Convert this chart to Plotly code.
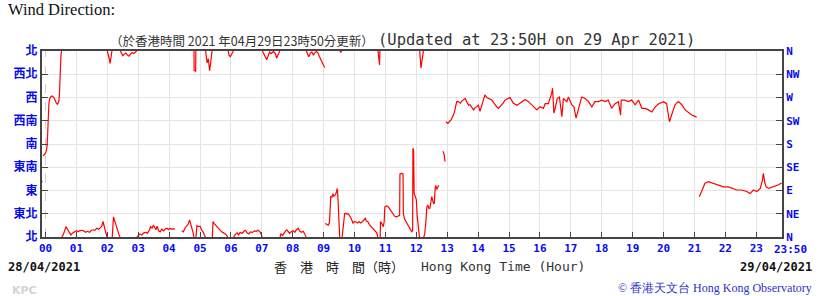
import plotly.graph_objects as go

# ---------------- data (hour of day, wind direction in degrees) ----------------
h1 = [-0.11, -0.09, -0.085, -0.08, -0.02, 0.02, 0.05, 0.07, 0.09, 0.11, 0.14, 0.18, 0.22, 0.27, 0.31, 0.35, 0.39, 0.43, 0.45, 0.47, 0.50, 0.52,
      0.53, 0.57, 0.62, 0.66, 0.70, 0.76, 0.82, 0.88, 0.94, 1.00, 1.05, 1.10, 1.17, 1.23, 1.30, 1.36, 1.42, 1.49, 1.55, 1.60, 1.66, 1.72, 1.78, 1.82, 1.86, 1.90, 1.94, 1.97, 1.99,
      2.00, 2.03, 2.06, 2.09, 2.12, 2.15,
      2.16, 2.18, 2.20, 2.23, 2.27, 2.32, 2.37, 2.41,
      2.42, 2.46, 2.50, 2.55, 2.60, 2.65, 2.70, 2.75, 2.80, 2.86, 2.92, 2.95,
      2.96, 3.00, 3.06, 3.12, 3.18, 3.25, 3.30, 3.35, 3.40, 3.45, 3.49, 3.53, 3.57, 3.61, 3.66, 3.71, 3.76, 3.82, 3.88, 3.93, 3.98, 4.03, 4.09, 4.13, 4.19]
d1 = [107, 107, None, 157, 160, 166, 175, 200, 235, 258, 268, 272, 273, 270, 265, 259, 257, 262, 275, 330, 352, 360,
      0, 4, 12, 20, 16, 9, 4, 8, 10, 12, 10, 12, 13, 12, 9, 11, 9, 13, 14, 13, 17, 15, 18, 21, 30, 22, 15, 5, 0,
      360, 354, 345, 336, 350, 360,
      0, 25, 39, 33, 24, 14, 6, 0,
      360, 355, 351, 354, 356, 352, 350, 354, 357, 355, 359, 360,
      0, 3, 6, 4, 8, 9, 7, 12, 20, 17, 23, 19, 14, 21, 12, 10, 15, 12, 16, 17, 14, 17, 15, 16, 15]

h2 = [4.30,
      4.41, 4.46, 4.52, 4.57, 4.62, 4.66, 4.70, 4.74, 4.77, 4.80,
      4.805, 4.81, 4.86, 4.865,
      4.87, 4.90, 4.95, 5.00, 5.05, 5.10, 5.14, 5.17,
      5.18, 5.20, 5.23, 5.27, 5.31, 5.33, 5.37, 5.39,
      5.40, 5.42, 5.46, 5.50, 5.55, 5.60, 5.65, 5.70, 5.76, 5.82, 5.87, 5.90,
      5.91, 5.94, 5.98, 6.02, 6.06, 6.08,
      6.09, 6.14, 6.20, 6.25, 6.30, 6.36, 6.42, 6.47, 6.52, 6.58, 6.63, 6.70, 6.76, 6.82, 6.88, 6.94, 6.98, 7.01,
      7.02, 7.07, 7.12, 7.16, 7.20, 7.25, 7.30, 7.38, 7.44, 7.48, 7.52, 7.56, 7.58,
      7.59, 7.62, 7.67, 7.72, 7.77, 7.81, 7.86, 7.90, 7.95, 8.02, 8.07, 8.12, 8.18, 8.22, 8.28, 8.34, 8.39, 8.43,
      8.44, 8.48, 8.52, 8.57, 8.62, 8.67, 8.72, 8.77, 8.82, 8.86, 8.90, 8.95, 9.00, 9.04]
d2 = [None,
      12, 10, 18, 22, 25, 33, 26, 18, 10, 0,
      360, 322, 321, 360,
      0, 22, 20, 21, 14, 10, 4, 0,
      360, 350, 337, 345, 322, 330, 358, 360,
      0, 30, 26, 23, 20, 17, 12, 10, 8, 6, 2, 0,
      360, 352, 349, 354, 358, 360,
      0, 5, 8, 4, 9, 7, 11, 13, 8, 6, 10, 9, 12, 11, 13, 10, 5, 0,
      360, 354, 347, 343, 350, 358, 355, 359, 355, 346, 352, 358, 360,
      0, 6, 3, 8, 12, 14, 9, 7, 10, 12, 9, 14, 17, 12, 9, 11, 6, 0,
      360, 353, 349, 356, 358, 352, 357, 359, 356, 350, 344, 337, 332, 328]

h3 = [9.05, 9.10, 9.15, 9.19, 9.21, 9.23, 9.27, 9.30, 9.33, 9.37, 9.41, 9.44, 9.46, 9.48, 9.50, 9.52,
      9.53, 9.56, 9.58,
      9.60, 9.62, 9.65, 9.68, 9.72, 9.76, 9.80, 9.85, 9.90, 9.95, 10.00, 10.05, 10.10, 10.15, 10.20, 10.26, 10.30, 10.35, 10.38, 10.43, 10.48, 10.54, 10.60, 10.66, 10.72, 10.75,
      10.76, 10.79, 10.81, 10.82,
      10.83, 10.84, 10.88, 10.93, 10.96, 10.98, 11.03, 11.08, 11.13, 11.18, 11.24, 11.30, 11.36, 11.42, 11.46, 11.47, 11.52, 11.57, 11.58, 11.62, 11.68, 11.74, 11.80, 11.85, 11.88, 11.89, 11.91, 11.93, 11.96, 12.00, 12.03, 12.07, 12.10,
      12.11, 12.13, 12.15, 12.18, 12.21, 12.23,
      12.24, 12.27, 12.31, 12.34, 12.37, 12.41, 12.44, 12.47, 12.50, 12.55, 12.58, 12.61, 12.63, 12.66, 12.70, 12.73,
      12.80, 12.86, 12.90, 12.93, 12.95]
d3 = [26, 24, 23, 28, 70, 78, 77, 84, 79, 81, 86, 94, 80, 55, 25, 0,
      360, 357, 360,
      0, 10, 25, 45, 46, 44, 45, 40, 35, 27, 30, 29, 27, 30, 27, 30, 32, 36, 31, 30, 24, 20, 15, 12, 8, 0,
      360, 346, 333, 360,
      0, 30, 26, 20, 30, 58, 60, 59, 55, 50, 44, 40, 39, 41, 42, 122, 123, 122, 45, 35, 28, 20, 14, 10, 12, 172, 168, 85, 80, 72, 40, 8, 0,
      360, 345, 327, 340, 355, 360,
      0, 5, 30, 58, 62, 55, 56, 72, 78, 66, 64, 95, 100, 92, 96, 100,
      None, 166, 160, 146, None]

h4 = [12.96, 13.02, 13.08, 13.13, 13.20, 13.24, 13.28, 13.31, 13.36, 13.42, 13.47, 13.52, 13.58, 13.63, 13.69, 13.74, 13.79, 13.85, 13.90, 13.96,
      14.01, 14.06, 14.12, 14.17, 14.22, 14.28, 14.33, 14.38, 14.44, 14.50, 14.55, 14.60, 14.66, 14.71, 14.76, 14.82, 14.87, 14.95,
      15.03, 15.09, 15.14, 15.20, 15.25, 15.33, 15.41, 15.52, 15.63, 15.79, 15.90,
      16.00, 16.11, 16.17, 16.27, 16.38, 16.41, 16.45, 16.49, 16.56, 16.63, 16.71, 16.76, 16.87, 16.92,
      17.03, 17.10, 17.17, 17.24, 17.35, 17.46, 17.57, 17.68, 17.78, 17.89,
      18.00, 18.11, 18.21, 18.32, 18.43, 18.54, 18.59, 18.61, 18.63, 18.75, 18.86, 18.97,
      19.08, 19.19, 19.30, 19.40, 19.51, 19.62, 19.73, 19.84,
      20.00, 20.10, 20.19, 20.27, 20.37, 20.48, 20.59, 20.70, 20.81, 20.91, 21.00, 21.07]
d4 = [223, 220, 224, 227, 236, 243, 255, 262, 262, 259, 263, 265, 268, 262, 255, 256, 252, 246, 250, 252,
      255, 243, 255, 266, 275, 270, 268, 266, 265, 260, 255, 252, 249, 252, 255, 260, 265, 268,
      270, 264, 259, 257, 255, 258, 262, 266, 262, 252, 246,
      252, 249, 258, 258, 278, 288, 240, 248, 268, 271, 233, 268, 262, 271,
      256, 252, 230, 246, 271, 268, 262, 252, 262, 262,
      265, 262, 265, 249, 258, 262, 242, 236, 265, 265, 262, 265,
      256, 265, 249, 249, 246, 242, 252, 258,
      262, 258, 223, 236, 256, 262, 256, 246, 240, 236, 234, 232]

h5 = [21.10, 21.16, 21.24, 21.34, 21.45, 21.61, 21.78, 21.94, 22.10, 22.26, 22.37, 22.53, 22.69, 22.80, 22.91, 23.02, 23.13, 23.20, 23.23, 23.28, 23.32, 23.40, 23.56, 23.72, 23.80, 23.83]
d5 = [None, 78, 91, 104, 107, 104, 101, 97, 97, 94, 91, 91, 88, 84, 91, 88, 94, 110, 123, 104, 97, 94, 97, 101, 104, 104]

hour_ticks = list(range(24))
hour_labels = [f"{h:02d}" for h in hour_ticks]
deg_ticks = [0, 45, 90, 135, 180, 225, 270, 315, 360]
cn_labels = ["北", "東北", "東", "東南", "南", "西南", "西", "西北", "北"]
en_labels = ["N", "NE", "E", "SE", "S", "SW", "W", "NW", "N"]
x_end = 23 + 50 / 60

hours = h1 + h2 + h3 + h4 + h5
dirs = d1 + d2 + d3 + d4 + d5
assert len(hours) == len(dirs)

# break the line at gaps and where the direction wraps through north
xs, ys = [], []
prev = None
for h, d in zip(hours, dirs):
    if d is None:
        xs.append(None); ys.append(None); prev = None
        continue
    if prev is not None and abs(d - prev) > 180:
        xs.append(None); ys.append(None)
    xs.append(h); ys.append(d); prev = d

# ---------------- figure ----------------
W, H = 820, 296
L, R, T, B = 42, 782, 51, 237
BLUE = "#0a0aee"

def px(x):
    return (x - L) / (R - L)

def py(y):
    return (B - y) / (B - T)

fig = go.Figure()
# invisible copy on the right-hand axis so that axis gets drawn
fig.add_trace(go.Scatter(x=xs, y=ys, yaxis="y2", mode="lines", connectgaps=False,
                         line=dict(color="rgba(0,0,0,0)", width=0.5),
                         hoverinfo="skip", showlegend=False))
fig.add_trace(go.Scatter(x=xs, y=ys, mode="lines", connectgaps=False,
                         line=dict(color="#ff0000", width=1.2),
                         hoverinfo="skip", showlegend=False))

axis_common = dict(showline=True, linecolor="#444", linewidth=2,
                   ticks="inside", tickcolor="#444", tickwidth=1, fixedrange=True)

fig.update_layout(
    width=W, height=H, autosize=False,
    margin=dict(l=L, r=W - R, t=T, b=H - B, pad=0),
    paper_bgcolor="white", plot_bgcolor="white",
    showlegend=False,
    xaxis=dict(range=[(L - 45.5) / 30.9, x_end], tickmode="array",
               tickvals=hour_ticks, ticktext=hour_labels, ticklen=5,
               mirror=True, showgrid=True, gridcolor="#e4e4e4", gridwidth=1,
               zeroline=True, zerolinecolor="rgba(0,0,0,0)", zerolinewidth=1,
               tickfont=dict(family="DejaVu Sans Mono", size=11, color=BLUE, weight="bold"),
               **axis_common),
    yaxis=dict(range=[0, 360], tickmode="array", tickvals=deg_ticks, ticktext=cn_labels,
               ticklen=6, showgrid=True, gridcolor="#e4e4e4", gridwidth=1, zeroline=False,
               tickfont=dict(family="Noto Sans CJK TC", size=12, color=BLUE, weight="bold"),
               **axis_common),
    yaxis2=dict(range=[0, 360], overlaying="y", side="right", tickmode="array",
                tickvals=deg_ticks, ticktext=en_labels, ticklen=6,
                showgrid=False, zeroline=False,
                tickfont=dict(family="DejaVu Sans Mono", size=11, color=BLUE, weight="bold"),
                **axis_common),
)

fig.add_vline(x=hour_ticks[0], line=dict(color="#cfcfcf", width=1, dash="dash"), layer="below")

def note(text, x, y, xanchor="left", size=12, family="DejaVu Sans Mono", color="#222", weight="normal"):
    fig.add_annotation(text=text, xref="paper", yref="paper", x=px(x), y=py(y),
                       xanchor=xanchor, yanchor="middle", showarrow=False,
                       font=dict(family=family, size=size, color=color, weight=weight),
                       borderpad=0)

note("Wind Direction:", 7, 10, size=16.5, family="Liberation Serif", color="#111")
note("（於香港時間 2021 年04月29日23時50分更新）", 375, 40, xanchor="right", size=12.5,
     family="Noto Sans CJK TC", color="#333")
note("(Updated at 23:50H on 29 Apr 2021)", 377, 40, size=15.5, color="#333")
note("23:50", 773, 249, size=11, color=BLUE, weight="bold")
note("28/04/2021", 7, 267, size=12, color="#111", weight="bold")
note("29/04/2021", 813, 267, xanchor="right", size=12, color="#111", weight="bold")
note("香　港　時　間（時）", 273, 266, size=13, family="Noto Sans CJK TC", color="#222")
note("Hong Kong Time (Hour)", 420, 266, size=13, color="#333")
note("KPC", 11, 290, size=11, family="DejaVu Sans", color="#d4d4d4", weight="bold")
note("© 香港天文台 Hong Kong Observatory", 813, 288, xanchor="right", size=12,
     family="Liberation Serif", color="#3030c8")

fig.write_html("out.html", config={"displayModeBar": False, "staticPlot": True})
